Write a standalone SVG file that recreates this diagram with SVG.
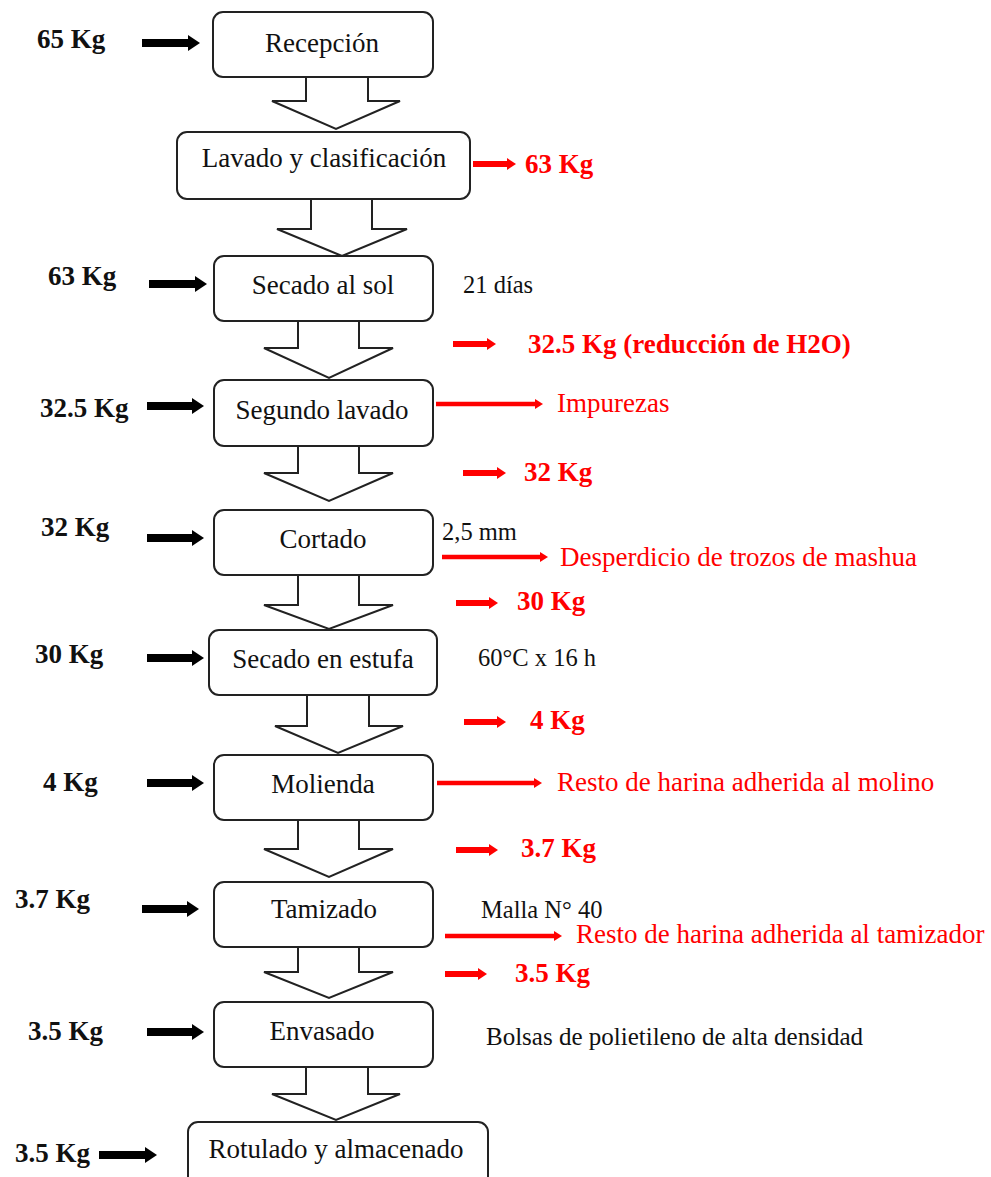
<svg xmlns="http://www.w3.org/2000/svg" width="991" height="1177" viewBox="0 0 991 1177">
<defs>
<marker id="hb" markerUnits="userSpaceOnUse" markerWidth="12" markerHeight="16" refX="0" refY="8" orient="auto"><path d="M0,0 L12,8 L0,16 Z" fill="#000"/></marker>
<marker id="hr" markerUnits="userSpaceOnUse" markerWidth="9" markerHeight="12" refX="0" refY="6" orient="auto"><path d="M0,0 L9,6 L0,12 Z" fill="#f00"/></marker>
<marker id="hrl" markerUnits="userSpaceOnUse" markerWidth="8" markerHeight="10" refX="0" refY="5" orient="auto"><path d="M0,0 L8,5 L0,10 Z" fill="#f00"/></marker>
</defs>
<style>
.box{fill:#fff;stroke:#222;stroke-width:2}
.t{font-family:"Liberation Serif","Times New Roman",serif;font-size:27px;fill:#111}
.c{text-anchor:middle}
.b{font-weight:bold}
.r{fill:#f00}
.s{font-family:"Liberation Serif","Times New Roman",serif;font-size:24.5px;fill:#111}
.blk{fill:#fff;stroke:#222;stroke-width:2;stroke-linejoin:miter}
.ab{stroke:#000;stroke-width:8;marker-end:url(#hb)}
.ar{stroke:#f00;stroke-width:6;marker-end:url(#hr)}
.arl{stroke:#f00;stroke-width:4.5;marker-end:url(#hrl)}
</style>
<rect width="991" height="1177" fill="#fff"/>

<g id="connectors">
<path class="blk" d="M306,77 L306,101 L272,101 L336,129 L400,101 L368,101 L368,77 Z"/>
<path class="blk" d="M311,199 L311,229 L277,229 L342,256 L407,229 L372,229 L372,199 Z"/>
<path class="blk" d="M298,321 L298,348 L264,348 L329,378 L393,348 L359,348 L359,321 Z"/>
<path class="blk" d="M298,446 L298,473 L264,473 L329,501 L393,473 L359,473 L359,446 Z"/>
<path class="blk" d="M298,575 L298,605 L264,605 L329,629 L393,605 L359,605 L359,575 Z"/>
<path class="blk" d="M307,695 L307,726 L275,726 L338,753 L403,726 L369,726 L369,695 Z"/>
<path class="blk" d="M298,820 L298,849 L264,849 L329,877 L393,849 L359,849 L359,820 Z"/>
<path class="blk" d="M298,947 L298,972 L264,972 L329,998 L393,972 L359,972 L359,947 Z"/>
<path class="blk" d="M306,1067 L306,1094 L272,1094 L336,1120 L400,1094 L368,1094 L368,1067 Z"/>

<line class="ab" x1="142" y1="43" x2="188" y2="43"/>
<line class="ab" x1="149" y1="284" x2="195" y2="284"/>
<line class="ab" x1="147" y1="406" x2="192" y2="406"/>
<line class="ab" x1="147" y1="538" x2="192" y2="538"/>
<line class="ab" x1="147" y1="658" x2="192" y2="658"/>
<line class="ab" x1="147" y1="783" x2="192" y2="783"/>
<line class="ab" x1="142" y1="909" x2="187" y2="909"/>
<line class="ab" x1="147" y1="1032" x2="192" y2="1032"/>
<line class="ab" x1="99" y1="1155" x2="145" y2="1155"/>

<line class="ar" x1="473" y1="164" x2="507" y2="164"/>
<line class="ar" x1="453" y1="344" x2="487" y2="344"/>
<line class="arl" x1="436" y1="404" x2="535" y2="404"/>
<line class="ar" x1="463" y1="473" x2="497" y2="473"/>
<line class="arl" x1="442" y1="557" x2="540" y2="557"/>
<line class="ar" x1="456" y1="603" x2="489" y2="603"/>
<line class="ar" x1="464" y1="722" x2="497" y2="722"/>
<line class="arl" x1="437" y1="783" x2="534" y2="783"/>
<line class="ar" x1="456" y1="850" x2="489" y2="850"/>
<line class="arl" x1="445" y1="936" x2="554" y2="936"/>
<line class="ar" x1="445" y1="974" x2="478" y2="974"/>
</g>

<g id="n-recepcion"><rect class="box" x="213" y="12" width="220" height="65" rx="10"/><text class="t c" x="322" y="52">Recepción</text></g>
<g id="n-lavado"><rect class="box" x="177" y="132" width="293" height="67" rx="10"/><text class="t c" x="324" y="167">Lavado y clasificación</text></g>
<g id="n-secado-sol"><rect class="box" x="214" y="256" width="219" height="65" rx="10"/><text class="t c" x="323" y="294">Secado al sol</text></g>
<g id="n-segundo"><rect class="box" x="214" y="380" width="219" height="66" rx="10"/><text class="t c" x="322" y="419">Segundo lavado</text></g>
<g id="n-cortado"><rect class="box" x="214" y="510" width="219" height="65" rx="10"/><text class="t c" x="323" y="548">Cortado</text></g>
<g id="n-estufa"><rect class="box" x="209" y="630" width="228" height="65" rx="10"/><text class="t c" x="323" y="668">Secado en estufa</text></g>
<g id="n-molienda"><rect class="box" x="214" y="755" width="219" height="65" rx="10"/><text class="t c" x="323" y="793">Molienda</text></g>
<g id="n-tamizado"><rect class="box" x="214" y="882" width="219" height="65" rx="10"/><text class="t c" x="324" y="918">Tamizado</text></g>
<g id="n-envasado"><rect class="box" x="214" y="1002" width="219" height="65" rx="10"/><text class="t c" x="322" y="1040">Envasado</text></g>
<g id="n-rotulado"><rect class="box" x="188" y="1122" width="300" height="70" rx="10"/><text class="t c" x="336" y="1158">Rotulado y almacenado</text></g>

<g id="inputs">
<text class="t b" x="37" y="48">65 Kg</text>
<text class="t b" x="48" y="285">63 Kg</text>
<text class="t b" x="40" y="417">32.5 Kg</text>
<text class="t b" x="41" y="536">32 Kg</text>
<text class="t b" x="35" y="663">30 Kg</text>
<text class="t b" x="43" y="791">4 Kg</text>
<text class="t b" x="15" y="908">3.7 Kg</text>
<text class="t b" x="28" y="1040">3.5 Kg</text>
<text class="t b" x="15" y="1162">3.5 Kg</text>
</g>

<g id="outputs">
<text class="t b r" x="525" y="173">63 Kg</text>
<text class="t b r" x="528" y="353">32.5 Kg (reducción de H2O)</text>
<text class="t r" x="557" y="412">Impurezas</text>
<text class="t b r" x="524" y="481">32 Kg</text>
<text class="t r" x="560" y="566">Desperdicio de trozos de mashua</text>
<text class="t b r" x="517" y="610">30 Kg</text>
<text class="t b r" x="530" y="729">4 Kg</text>
<text class="t r" x="557" y="791">Resto de harina adherida al molino</text>
<text class="t b r" x="521" y="857">3.7 Kg</text>
<text class="t r" x="576" y="943">Resto de harina adherida al tamizador</text>
<text class="t b r" x="515" y="982">3.5 Kg</text>
</g>

<g id="notes">
<text class="s" x="463" y="293">21 días</text>
<text class="s" x="442" y="540">2,5 mm</text>
<text class="s" x="478" y="666">60°C x 16 h</text>
<text class="s" x="481" y="918">Malla N° 40</text>
<text class="s" x="486" y="1045" style="font-size:25px">Bolsas de polietileno de alta densidad</text>
</g>
</svg>
